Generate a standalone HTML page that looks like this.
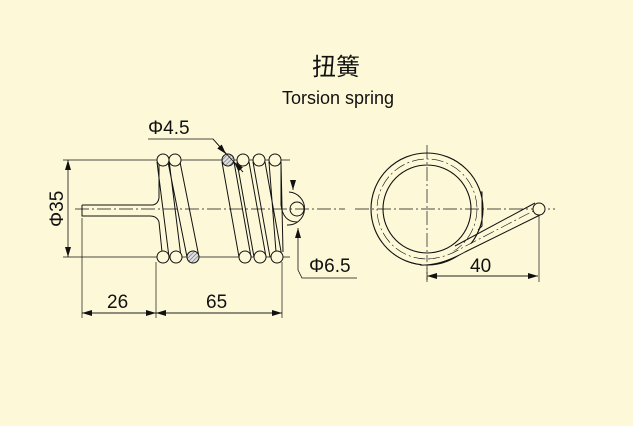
<!DOCTYPE html>
<html><head><meta charset="utf-8"><style>
html,body{margin:0;padding:0;background:#fdf9d8;}
svg{display:block}
text{font-family:"Liberation Sans","Noto Sans CJK SC",sans-serif;fill:#111}
</style></head><body>
<svg width="633" height="426" viewBox="0 0 633 426" xmlns="http://www.w3.org/2000/svg">
<defs>
<pattern id="h" width="3" height="3" patternUnits="userSpaceOnUse" patternTransform="rotate(45)"><rect width="3" height="3" fill="#ddd"/><line x1="0" y1="0" x2="0" y2="3" stroke="#555" stroke-width="1"/></pattern>
<marker id="a" markerWidth="10" markerHeight="6" refX="10" refY="3" orient="auto" markerUnits="userSpaceOnUse"><path d="M0,0 L10,3 L0,6 z" fill="#111"/></marker>
</defs>
<text x="336" y="75" font-size="24" text-anchor="middle">扭簧</text>
<text x="338" y="104" font-size="18" text-anchor="middle">Torsion spring</text>

<g stroke="#111" stroke-width="1" fill="none">
<line x1="75" y1="209" x2="345" y2="209" stroke-dasharray="14,3,2,3" stroke-width="0.7"/>
<line x1="355" y1="209" x2="555" y2="209" stroke-dasharray="14,3,2,3" stroke-width="0.7"/>
<line x1="427" y1="145" x2="427" y2="280" stroke-dasharray="14,3,2,3" stroke-width="0.7"/>
<line x1="63" y1="160" x2="290" y2="160" stroke-width="0.7"/>
<line x1="63" y1="257" x2="290" y2="257" stroke-width="0.7"/>
<line x1="82" y1="218" x2="82" y2="318" stroke-width="0.7"/>
<line x1="156" y1="262" x2="156" y2="318" stroke-width="0.7"/>
<line x1="282" y1="262" x2="282" y2="318" stroke-width="0.7"/>
<line x1="68" y1="208" x2="68" y2="160" stroke-width="0.8" marker-end="url(#a)"/>
<line x1="68" y1="208" x2="68" y2="257" stroke-width="0.8" marker-end="url(#a)"/>
<line x1="82" y1="313" x2="156" y2="313" stroke-width="0.8" marker-end="url(#a)"/>
<line x1="156" y1="313" x2="82" y2="313" stroke-width="0.8" marker-end="url(#a)"/>
<line x1="156" y1="313" x2="282" y2="313" stroke-width="0.8" marker-end="url(#a)"/>
<line x1="282" y1="313" x2="156" y2="313" stroke-width="0.8" marker-end="url(#a)"/>
<line x1="427" y1="276" x2="538" y2="276" stroke-width="0.8" marker-end="url(#a)"/>
<line x1="538" y1="276" x2="427" y2="276" stroke-width="0.8" marker-end="url(#a)"/>
<line x1="427" y1="268" x2="427" y2="282" stroke-width="0.7"/>
<line x1="539" y1="215" x2="539" y2="282" stroke-width="0.7"/>
<path d="M82,205 L153,205 Q158,204 159,198 L159,165 M82,205 L82,216 L150,216 Q157,216 159,222 L162,252" stroke-width="1"/>
<path d="M157,162 L169,257 M169,160 L181,257 M168,162 L187,257 M180,162 L199,257"/>
<path d="M222,162 L239,257 M234,162 L251,257 M237,162 L254,257 M249,162 L266,257 M253,162 L270,257 M265,162 L282,257 M269,162 L276,252 M281,162 L283,252"/>
<path d="M281,162 L281,205 Q283,222 297,222"/>
<path d="M289,192 A16,16 0 1 1 287,225" stroke-width="1"/>
<circle cx="297" cy="209" r="7"/>
<g fill="#fdf9d8">
<circle cx="163" cy="160" r="6"/><circle cx="175" cy="160" r="6"/>
<circle cx="228" cy="160" r="6" fill="url(#h)"/><circle cx="243" cy="160" r="6"/><circle cx="259" cy="160" r="6"/><circle cx="275" cy="160" r="6"/>
<circle cx="163" cy="257" r="6"/><circle cx="176" cy="257" r="6"/><circle cx="193" cy="257" r="6" fill="url(#h)"/>
<circle cx="245" cy="257" r="6"/><circle cx="260" cy="257" r="6"/><circle cx="277" cy="257" r="6"/>
</g>
<path d="M148,139 L213,139 L243,172" stroke-width="0.8"/>
<path d="M213,139 L226,154" stroke-width="0.8" marker-end="url(#a)"/>
<path d="M243,172 L234,162" stroke-width="0.8" marker-end="url(#a)"/>
<path d="M293,180 L293,190" stroke-width="0.8" marker-end="url(#a)"/>
<path d="M298,270 L298,228" stroke-width="0.8" marker-end="url(#a)"/>
<path d="M298,270 L302,278 L357,278" stroke-width="0.8"/>
<circle cx="427" cy="209" r="56" stroke-width="1.1"/>
<circle cx="427" cy="209" r="50" stroke-dasharray="12,3,2,3" stroke-width="0.6"/>
<circle cx="427" cy="209" r="44" stroke-width="1.1"/>
<path d="M480,192 L482,192 L482,226 L478,230" stroke-width="1"/>
<path d="M420,265 Q440,266 465,252 L540,215" stroke-width="1" fill="#fdf9d8"/>
<path d="M455,246 L535,203" stroke-width="1"/>
<path d="M428,259 Q445,258 460,249 L537,209" stroke-width="0.6" stroke-dasharray="12,3,2,3"/>
<circle cx="539" cy="209" r="6" fill="#fdf9d8"/>
</g>
<text x="148" y="134" font-size="19">Φ4.5</text>
<text x="309" y="272" font-size="19">Φ6.5</text>
<text x="107" y="308" font-size="19">26</text>
<text x="206" y="308" font-size="19">65</text>
<text x="470" y="272" font-size="19">40</text>
<text x="0" y="0" font-size="19" transform="translate(63,227) rotate(-90)">Φ35</text>
</svg>
</body></html>
